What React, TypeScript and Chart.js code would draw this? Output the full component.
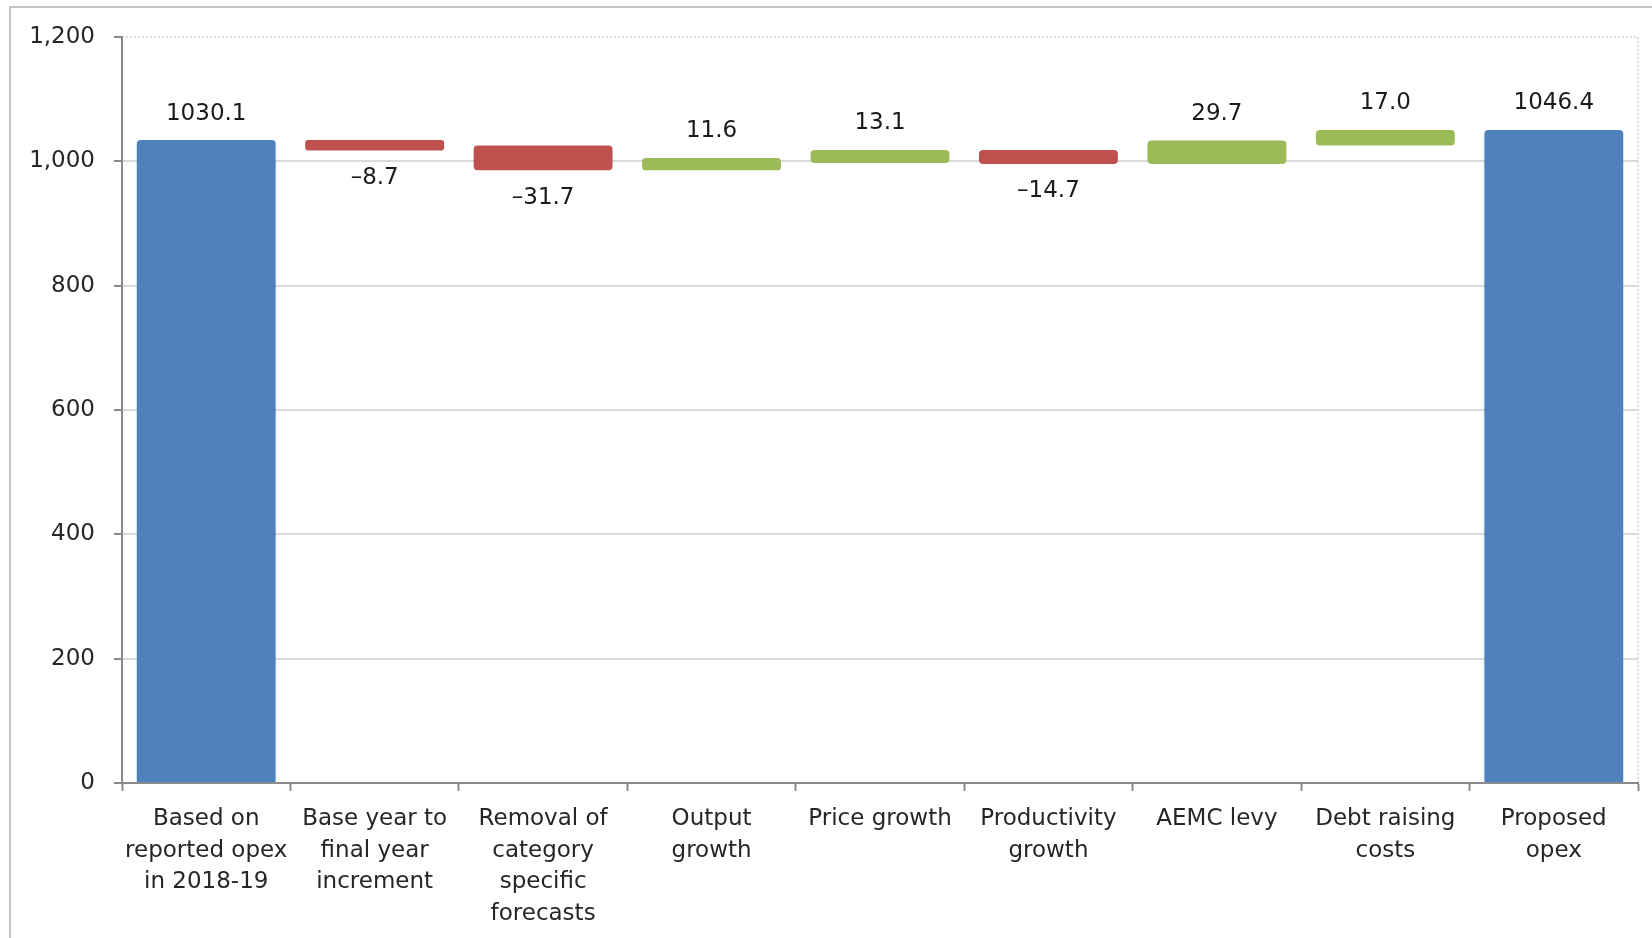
import React, { useEffect, useRef } from "react";
import { Chart, registerables } from "chart.js";

Chart.register(...registerables);

const categories: string[][] = [
  ["Based on", "reported opex", "in 2018-19"],
  ["Base year to", "final year", "increment"],
  ["Removal of", "category", "specific", "forecasts"],
  ["Output", "growth"],
  ["Price growth"],
  ["Productivity", "growth"],
  ["AEMC levy"],
  ["Debt raising", "costs"],
  ["Proposed", "opex"],
];
const values: number[] = [1030.1, -8.7, -31.7, 11.6, 13.1, -14.7, 29.7, 17.0, 1046.4];
const isTotal: boolean[] = [true, false, false, false, false, false, false, false, true];
const yMin = 0;
const yMax = 1200;
const yStep = 200;

const COLOR_TOTAL = "#4F81BD";
const COLOR_UP = "#9BBB59";
const COLOR_DOWN = "#C0504D";
const FONT_FAMILY = "'DejaVu Sans', sans-serif";
const FONT_SIZE = 23;

function buildRanges(): [number, number][] {
  const out: [number, number][] = [];
  let running = 0;
  values.forEach((v, i) => {
    if (isTotal[i]) {
      out.push([0, v]);
      running = v;
    } else {
      out.push([running, running + v]);
      running = running + v;
    }
  });
  return out;
}

function fmtLabel(v: number, i: number): string {
  if (isTotal[i]) return v.toFixed(1);
  return v < 0 ? "\u2013" + Math.abs(v).toFixed(1) : v.toFixed(1);
}

const labelPlugin = {
  id: "wfLabels",
  afterDatasetsDraw(chart: any) {
    const ctx = chart.ctx;
    const meta = chart.getDatasetMeta(0);
    ctx.save();
    ctx.font = `${FONT_SIZE}px ${FONT_FAMILY}`;
    ctx.fillStyle = "#1a1a1a";
    ctx.textAlign = "center";
    ctx.textBaseline = "middle";
    meta.data.forEach((el: any, i: number) => {
      const v = values[i];
      const top = Math.min(el.y, el.base);
      const bottom = Math.max(el.y, el.base);
      const text = fmtLabel(v, i);
      if (v >= 0) ctx.fillText(text, el.x, top - 29);
      else ctx.fillText(text, el.x, bottom + 30);
    });
    ctx.restore();
  },
};

const framePlugin = {
  id: "frameLines",
  beforeDatasetsDraw(chart: any) {
    const { ctx, chartArea } = chart;
    const yScale = chart.scales.y;
    const yTop = yScale.getPixelForValue(yMax);
    ctx.save();
    ctx.strokeStyle = "#cfcfcf";
    ctx.lineWidth = 1.5;
    ctx.setLineDash([2, 2]);
    ctx.beginPath();
    ctx.moveTo(chartArea.left, yTop);
    ctx.lineTo(chartArea.right, yTop);
    ctx.moveTo(chartArea.right, chartArea.top);
    ctx.lineTo(chartArea.right, chartArea.bottom);
    ctx.stroke();
    ctx.restore();
  },
};

export default function App() {
  const canvasRef = useRef<HTMLCanvasElement | null>(null);

  useEffect(() => {
    if (!canvasRef.current) return;
    const ranges = buildRanges();
    const colors = values.map((v, i) => (isTotal[i] ? COLOR_TOTAL : v >= 0 ? COLOR_UP : COLOR_DOWN));
    const chart = new Chart(canvasRef.current, {
      type: "bar",
      data: {
        labels: categories,
        datasets: [
          {
            data: ranges as any,
            backgroundColor: colors,
            borderWidth: 0,
            borderRadius: 4,
            borderSkipped: false,
            inflateAmount: 2.5,
            barPercentage: 0.795,
            categoryPercentage: 1,
          } as any,
        ],
      },
      options: {
        animation: false,
        responsive: false,
        devicePixelRatio: 1,
        layout: { padding: { left: 0, top: 37, right: 14, bottom: 0 } },
        plugins: {
          legend: { display: false },
          tooltip: { enabled: false },
          title: { display: false },
        },
        scales: {
          x: {
            grid: {
              offset: true,
              drawOnChartArea: false,
              drawTicks: true,
              tickLength: 8,
              tickColor: "#8a8a8a",
              tickWidth: 2,
            },
            border: { display: true, color: "#8a8a8a", width: 2, z: 1 } as any,
            ticks: {
              color: "#262626",
              font: { family: FONT_FAMILY, size: FONT_SIZE, lineHeight: 1.38 },
              padding: 12,
              maxRotation: 0,
              autoSkip: false,
            },
            afterFit(scale: any) {
              scale.height = 155;
            },
          },
          y: {
            min: yMin,
            max: yMax,
            ticks: {
              stepSize: yStep,
              color: "#262626",
              font: { family: FONT_FAMILY, size: FONT_SIZE },
              padding: 19,
            },
            grid: {
              color: (c: any) =>
                c.tick && (c.tick.value === yMax || c.tick.value === yMin) ? "rgba(0,0,0,0)" : "#d9d9d9",
              lineWidth: 2,
              tickLength: 8,
              tickColor: "#8a8a8a",
              tickWidth: 2,
            },
            border: { display: true, color: "#8a8a8a", width: 2, z: 1 } as any,
            afterFit(scale: any) {
              scale.width = 122;
            },
          },
        },
      },
      plugins: [framePlugin, labelPlugin],
    });
    return () => chart.destroy();
  }, []);

  return (
    <div
      style={{
        position: "fixed",
        left: 0,
        top: 0,
        width: 1652,
        height: 938,
        overflow: "hidden",
        background: "#ffffff",
      }}
    >
      <div
        style={{
          position: "absolute",
          left: 9,
          top: 6,
          width: 1700,
          height: 1000,
          border: "2px solid #c4c4c4",
          boxSizing: "border-box",
        }}
      />
      <canvas
        ref={canvasRef}
        width={1652}
        height={938}
        style={{ position: "absolute", left: 0, top: 0, width: 1652, height: 938 }}
      />
    </div>
  );
}
